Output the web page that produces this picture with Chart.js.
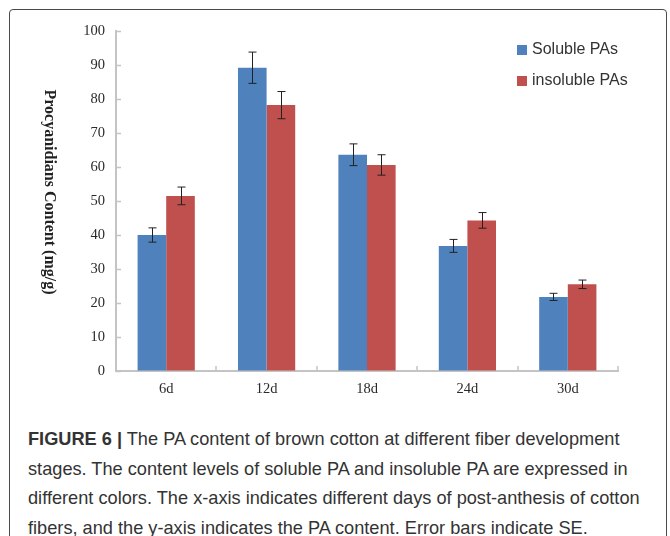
<!DOCTYPE html>
<html>
<head>
<meta charset="utf-8">
<script src="https://cdn.jsdelivr.net/npm/chart.js@4.4.0/dist/chart.umd.min.js"></script>
<style>
  body { margin: 0; background: #fff; }
  #wrap { position: relative; width: 670px; height: 536px; overflow: hidden; }
  #frame { position: absolute; left: 9px; top: 9px; width: 656px; height: 600px; border: 1.5px solid #4a4a4a; border-radius: 4px; }
  #chartBox { position: absolute; left: 0; top: 0; width: 670px; height: 410px; }
  #ytitle { position: absolute; left: 50px; top: 192px; transform: translate(-50%, -50%); writing-mode: vertical-rl;
            font: bold 16px "Liberation Serif", serif; color: #222; white-space: nowrap; }
  #legend { position: absolute; left: 517px; top: 40px; font: 16px "Liberation Sans", sans-serif; color: #333; line-height: 18px; }
  #legend div { height: 31px; white-space: nowrap; }
  #legend span.sw { display: inline-block; width: 10px; height: 10px; margin-right: 5px; vertical-align: -1px; }
  #caption { position: absolute; left: 28px; top: 425px; font: 18.2px "Liberation Sans", sans-serif; line-height: 29.5px; color: #333; white-space: nowrap; }
</style>
</head>
<body>
<div id="wrap">
  <div id="frame"></div>
  <div id="chartBox"><canvas id="chart"></canvas></div>
  <div id="ytitle">Procyanidians Content (mg/g)</div>
  <div id="legend"></div>
  <div id="caption">
    <b>FIGURE 6 |</b> The PA content of brown cotton at different fiber development<br>
    stages. The content levels of soluble PA and insoluble PA are expressed in<br>
    different colors. The x-axis indicates different days of post-anthesis of cotton<br>
    fibers, and the y-axis indicates the PA content. Error bars indicate SE.
  </div>
</div>
<script>
const days = ["6d", "12d", "18d", "24d", "30d"];
const soluble = [40.0, 89.2, 63.6, 36.8, 21.8];
const solubleErr = [2.1, 4.6, 3.2, 1.9, 1.05];
const insoluble = [51.5, 78.2, 60.6, 44.3, 25.5];
const insolubleErr = [2.6, 4.0, 3.0, 2.3, 1.25];

const seriesNames = ["Soluble PAs", "insoluble PAs"];
const seriesColors = ["#4f81bd", "#c0504d"];

// html legend, built from the series above
const legend = document.getElementById("legend");
seriesNames.forEach((name, i) => {
  const row = document.createElement("div");
  row.innerHTML = '<span class="sw" style="background:' + seriesColors[i] + '"></span>' + name;
  legend.appendChild(row);
});

const errorBars = {
  id: "errorBars",
  afterDatasetsDraw(chart) {
    const ctx = chart.ctx;
    const ys = chart.scales.y;
    const xs = chart.scales.x;
    ctx.save();
    ctx.strokeStyle = "#222";
    ctx.lineWidth = 1;
    chart.data.datasets.forEach((ds, i) => {
      chart.getDatasetMeta(i).data.forEach((bar, j) => {
        const hi = ys.getPixelForValue(ds.data[j] + ds.errors[j]);
        const lo = ys.getPixelForValue(ds.data[j] - ds.errors[j]);
        const x = Math.round(bar.x) + 0.5;
        ctx.beginPath();
        ctx.moveTo(x, hi); ctx.lineTo(x, lo);
        ctx.moveTo(x - 4, hi); ctx.lineTo(x + 4, hi);
        ctx.moveTo(x - 4, lo); ctx.lineTo(x + 4, lo);
        ctx.stroke();
      });
    });
    // tick marks point inward on both axes
    ctx.strokeStyle = "#c4c4c4";
    ctx.lineWidth = 1.5;
    const n = days.length;
    for (let k = 1; k <= n; k++) {
      const x = Math.round(xs.left + k * xs.width / n);
      ctx.beginPath();
      ctx.moveTo(x, xs.top);
      ctx.lineTo(x, xs.top - 5);
      ctx.stroke();
    }
    ys.ticks.forEach((t) => {
      const y = Math.round(ys.getPixelForValue(t.value)) + 0.5;
      ctx.beginPath();
      ctx.moveTo(ys.right, y);
      ctx.lineTo(ys.right + 5, y);
      ctx.stroke();
    });
    ctx.restore();
  }
};

new Chart(document.getElementById("chart"), {
  type: "bar",
  data: {
    labels: days,
    datasets: [
      { label: seriesNames[0], data: soluble, errors: solubleErr, backgroundColor: seriesColors[0] },
      { label: seriesNames[1], data: insoluble, errors: insolubleErr, backgroundColor: seriesColors[1] },
    ],
  },
  options: {
    responsive: true,
    maintainAspectRatio: false,
    animation: false,
    categoryPercentage: 0.57,
    barPercentage: 1.0,
    layout: { padding: { left: 76, right: 52, top: 31, bottom: 9 } },
    plugins: { legend: { display: false }, tooltip: { enabled: false } },
    scales: {
      x: {
        grid: { display: false, drawTicks: false },
        border: { color: "#c4c4c4", width: 2 },
        ticks: { padding: 9, color: "#2a2a2a", font: { family: "Liberation Serif", size: 14.5 } },
        afterFit: (s) => { s.height = 30; },
      },
      y: {
        min: 0,
        max: 100,
        ticks: { stepSize: 10, padding: 11, color: "#2a2a2a", font: { family: "Liberation Serif", size: 14.5 } },
        grid: { drawOnChartArea: false, drawTicks: false },
        border: { color: "#c4c4c4", width: 2 },
        afterFit: (s) => { s.width = 40; },
      },
    },
  },
  plugins: [errorBars],
});
</script>
</body>
</html>
